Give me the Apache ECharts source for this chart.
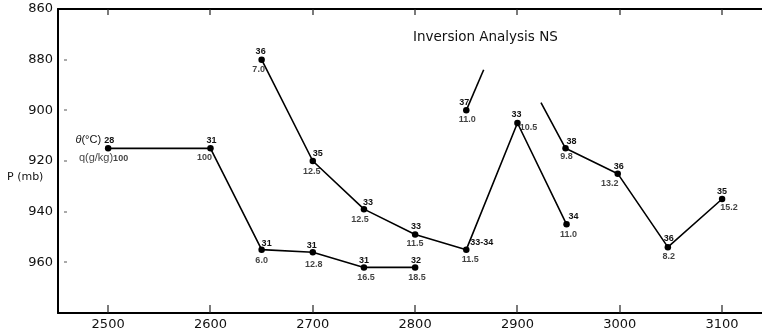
<!DOCTYPE html>
<html>
<head>
<meta charset="utf-8">
<style>
  html, body { margin: 0; padding: 0; background: #fff; }
  #chart { width: 762px; height: 331px; }
</style>
<script src="https://cdn.jsdelivr.net/npm/echarts@6/dist/echarts.min.js"></script>
</head>
<body>
<div id="chart"></div>
<script>
// Axis ticks
const xTicks = [2500, 2600, 2700, 2800, 2900, 3000, 3100];
const pTicks = [860, 880, 900, 920, 940, 960];

// Profile A (lower branch)
const aX = [2500, 2600, 2650, 2700, 2750, 2800];
const aP = [915, 915, 955, 956, 962, 962];
const aTheta = ['28', '31', '31', '31', '31', '32'];
const aQ = ['100', '100', '6.0', '12.8', '16.5', '18.5'];

// Profile B (upper branch)
const bX = [2650, 2700, 2750, 2800, 2850, 2900, 2948];
const bP = [880, 920, 939, 949, 955, 905, 945];
const bTheta = ['36', '35', '33', '33', '33-34', '33', '34'];
const bQ = ['7.0', '12.5', '12.5', '11.5', '11.5', '10.5', '11.0'];

// Profile C (short segment, open upper end)
const cX = [2850, 2867];
const cP = [900, 884];
const cTheta = ['37', null];
const cQ = ['11.0', null];

// Profile D (open left end)
const dX = [2923, 2947, 2998, 3047, 3100];
const dP = [897, 915, 925, 954, 935];
const dTheta = [null, '38', '36', '36', '35'];
const dQ = [null, '9.8', '13.2', '8.2', '15.2'];

// Label placement around each marker: [dx, dy, align]
const aThetaPos = [[6, -8, 'right'], [1, -8], [5, -6], [-1, -7], [0, -7], [1, -7]];
const aQPos = [[20, 10, 'right'], [-6, 9], [0, 11], [1, 12], [2, 10], [2, 10]];
const bThetaPos = [[-1, -8], [5, -7], [4, -7], [1, -8], [4, -7, 'left'], [-1, -8], [7, -8]];
const bQPos = [[-3, 10], [-1, 11], [-4, 10], [0, 9], [4, 10], [11, 5], [2, 10]];
const cThetaPos = [[-2, -8], null];
const cQPos = [[1, 9], null];
const dThetaPos = [null, [6, -7], [1, -7], [1, -9], [0, -7]];
const dQPos = [null, [1, 8], [-8, 10], [1, 9], [7, 9]];

const FONT = '"DejaVu Sans", "Liberation Sans", sans-serif';
const LABEL_FONT = '"Liberation Sans", "DejaVu Sans", sans-serif';
const INK = '#111';

const richStyles = {
  it: { fontStyle: 'italic', fontWeight: 'normal', fontFamily: LABEL_FONT, fontSize: 11, color: INK },
  k: { fontWeight: 'normal', fontFamily: LABEL_FONT, fontSize: 11, color: INK },
  n: { fontFamily: LABEL_FONT, fontSize: 9, fontWeight: 'bold', color: INK }
};

function labelFor(text, pos, first, kind) {
  if (text == null || pos == null) return { show: false };
  let formatter = text;
  if (first) {
    formatter = kind === 'theta'
      ? '{it|θ}{k|(°C) }{n|' + text + '}'
      : '{k|q(g/kg)}{n|' + text + '}';
  }
  return {
    show: true,
    position: 'inside',
    formatter: formatter,
    offset: [pos[0], pos[1]],
    align: pos[2] || 'center',
    verticalAlign: 'middle',
    fontFamily: LABEL_FONT,
    fontSize: 9,
    fontWeight: 'bold',
    color: INK,
    rich: richStyles
  };
}

function profile(xs, ps, thetas, qs, thetaPos, qPos, withKey) {
  const lineData = xs.map((x, i) => ({
    value: [x, ps[i]],
    symbolSize: thetas[i] == null ? 0 : 6.5,
    label: labelFor(thetas[i], thetaPos[i], withKey && i === 0, 'theta')
  }));
  const qData = xs.map((x, i) => ({
    value: [x, ps[i]],
    label: labelFor(qs[i], qPos[i], withKey && i === 0, 'q')
  }));
  return [
    {
      type: 'line',
      data: lineData,
      symbol: 'circle',
      showSymbol: true,
      itemStyle: { color: '#000' },
      lineStyle: { color: '#000', width: 1.6 },
      silent: true,
      animation: false,
      z: 3
    },
    {
      type: 'scatter',
      data: qData,
      symbolSize: 0,
      silent: true,
      animation: false,
      z: 4
    }
  ];
}

const chart = echarts.init(document.getElementById('chart'), null, { renderer: 'canvas' });

const axisLine = { show: true, onZero: false, lineStyle: { color: '#000', width: 2 } };

chart.setOption({
  backgroundColor: '#fff',
  animation: false,
  title: {
    text: 'Inversion Analysis NS',
    left: 408,
    top: 25,
    textStyle: { fontFamily: FONT, fontSize: 13.5, fontWeight: 'normal', color: INK }
  },
  grid: { left: 58, right: 0, top: 9, bottom: 18 },
  xAxis: [
    {
      type: 'value',
      position: 'bottom',
      min: 2451,
      max: 3139,
      axisLine: axisLine,
      axisTick: { show: false },
      axisLabel: {
        customValues: xTicks,
        margin: 5,
        fontFamily: FONT,
        fontSize: 13,
        color: INK,
        formatter: v => String(v)
      },
      splitLine: { show: false }
    },
    {
      type: 'value',
      position: 'top',
      min: 2451,
      max: 3139,
      axisLine: axisLine,
      axisTick: { show: false },
      axisLabel: { show: false },
      splitLine: { show: false }
    }
  ],
  yAxis: {
    type: 'value',
    inverse: true,
    min: 860,
    max: 980,
    interval: 20,
    axisLine: axisLine,
    axisTick: { show: false },
    axisLabel: {
      margin: 5,
      fontFamily: FONT,
      fontSize: 13,
      color: INK,
      formatter: v => (pTicks.indexOf(v) >= 0 ? String(v) : '')
    },
    splitLine: { show: false }
  },
  series: [
    ...profile(aX, aP, aTheta, aQ, aThetaPos, aQPos, true),
    ...profile(bX, bP, bTheta, bQ, bThetaPos, bQPos, false),
    ...profile(cX, cP, cTheta, cQ, cThetaPos, cQPos, false),
    ...profile(dX, dP, dTheta, dQ, dThetaPos, dQPos, false)
  ]
});

// Inward tick marks placed through the axis scales, plus the pressure axis title
const rect = chart.getModel().getComponent('grid').coordinateSystem.getRect();
const bottom = rect.y + rect.height;
const ticks = [];
xTicks.forEach(v => {
  const px = Math.round(chart.convertToPixel({ xAxisIndex: 0 }, v));
  ticks.push({ type: 'rect', silent: true, z: 50, shape: { x: px - 0.6, y: bottom - 8, width: 1.2, height: 8 }, style: { fill: '#222' } });
  ticks.push({ type: 'rect', silent: true, z: 50, shape: { x: px - 0.6, y: rect.y, width: 1.2, height: 6 }, style: { fill: '#222' } });
});
pTicks.slice(1).forEach(v => {
  const py = Math.round(chart.convertToPixel({ yAxisIndex: 0 }, v));
  ticks.push({ type: 'rect', silent: true, z: 50, shape: { x: rect.x + 6, y: py - 0.5, width: 3, height: 1 }, style: { fill: '#555' } });
});
ticks.push({
  type: 'text',
  left: 7,
  top: 172,
  style: { text: 'P (mb)', font: '11px ' + FONT, fill: INK }
});
chart.setOption({ graphic: ticks });
</script>
</body>
</html>
